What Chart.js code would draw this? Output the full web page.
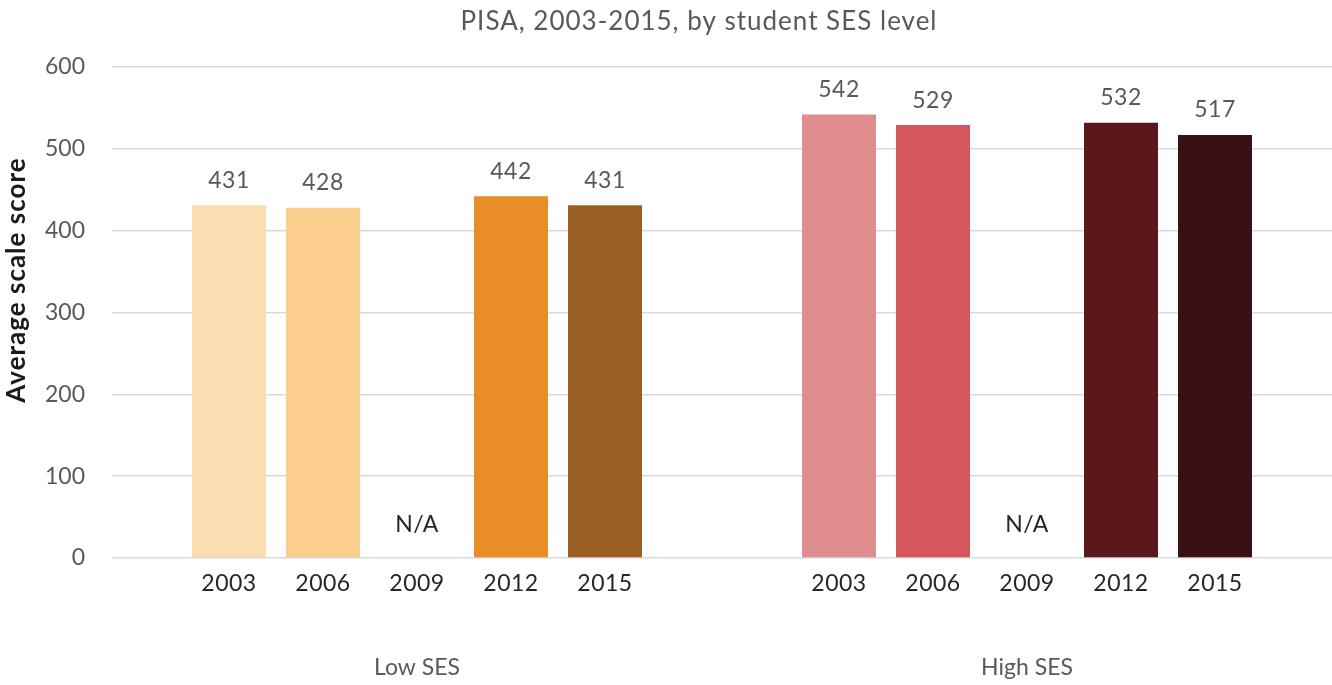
<!DOCTYPE html>
<html>
<head>
<meta charset="utf-8">
<script src="https://cdn.jsdelivr.net/npm/chart.js@4"></script>
<style>
  html, body { margin: 0; padding: 0; background: #ffffff; }
  #wrap { width: 1332px; height: 685px; position: relative; }
</style>
</head>
<body>
<div id="wrap"><canvas id="c"></canvas></div>
<script>
// ---- Data ----
const groups = ["Low SES", "High SES"];
const years = ["2003", "2006", "2009", "2012", "2015"];
const scores2003 = [431, 542];
const scores2006 = [428, 529];
const scores2009 = [null, null];
const scores2012 = [442, 532];
const scores2015 = [431, 517];
const yTicks = [0, 100, 200, 300, 400, 500, 600];
const chartTitle = "PISA, 2003-2015, by student SES level";
const yTitle = "Average scale score";
const missingLabel = "N/A";

// colours per year, per group [Low, High]
const colors2003 = ["#FBDDB1", "#E08D90"];
const colors2006 = ["#FBCF8B", "#D4575D"];
const colors2009 = ["#cccccc", "#cccccc"];
const colors2012 = ["#E88D27", "#5B181A"];
const colors2015 = ["#9A5E25", "#3A1014"];

const seriesValues = [scores2003, scores2006, scores2009, scores2012, scores2015];
const seriesColors = [colors2003, colors2006, colors2009, colors2012, colors2015];

const FONT = "Lato";
const GRAY = "#595959";
const DARK = "#262626";

function setSpacing(ctx, px) { if ("letterSpacing" in ctx) ctx.letterSpacing = px + "px"; }

const labelsPlugin = {
  id: "customLabels",
  afterDatasetsDraw(chart) {
    const ctx = chart.ctx;
    const yScale = chart.scales.y;
    const zeroY = yScale.getPixelForValue(0);
    ctx.save();
    setSpacing(ctx, 0.5);
    chart.data.datasets.forEach((ds, di) => {
      const meta = chart.getDatasetMeta(di);
      meta.data.forEach((bar, i) => {
        const v = ds.data[i];
        const x = bar.x;
        ctx.textAlign = "center";
        ctx.textBaseline = "middle";
        ctx.font = "23px " + FONT;
        if (v === null || v === undefined) {
          ctx.fillStyle = DARK;
          ctx.fillText(missingLabel, x, zeroY - 33);
        } else {
          ctx.fillStyle = GRAY;
          ctx.fillText(String(v), x, yScale.getPixelForValue(v) - 25);
        }
        ctx.fillStyle = DARK;
        ctx.fillText(ds.label, x, zeroY + 26);
      });
    });
    // Title
    setSpacing(ctx, 1);
    ctx.fillStyle = GRAY;
    ctx.font = "26px " + FONT;
    ctx.textAlign = "center";
    ctx.textBaseline = "middle";
    ctx.fillText(chartTitle, 699, 22);
    // Y axis title
    ctx.translate(17, 280);
    ctx.rotate(-Math.PI / 2);
    ctx.fillStyle = "#1a1a1a";
    setSpacing(ctx, 1);
    ctx.font = "bold 26px " + FONT;
    ctx.fillText(yTitle, 0, 0);
    ctx.restore();
  }
};

function build() {
  const datasets = years.map((yr, i) => ({
    label: yr,
    data: seriesValues[i],
    backgroundColor: seriesColors[i],
    borderWidth: 0,
    categoryPercentage: 0.7705,
    barPercentage: 0.787
  }));
  new Chart(document.getElementById("c"), {
    type: "bar",
    data: { labels: groups, datasets },
    plugins: [labelsPlugin],
    options: {
      responsive: true,
      maintainAspectRatio: false,
      animation: false,
      layout: { padding: { top: 67, left: 0, right: 0, bottom: 0 } },
      plugins: {
        legend: { display: false },
        tooltip: { enabled: false },
        title: { display: false }
      },
      scales: {
        y: {
          min: 0,
          max: 600,
          afterBuildTicks: (s) => { s.ticks = yTicks.map(v => ({ value: v })); },
          ticks: { color: GRAY, font: { family: FONT, size: 23 }, padding: 27 },
          grid: { color: "#D9D9D9", lineWidth: 1.5, drawTicks: false },
          border: { display: false },
          afterFit: (s) => { s.width = 112; }
        },
        x: {
          grid: { display: false, drawTicks: false },
          border: { display: false },
          ticks: { color: GRAY, font: { family: FONT, size: 23 }, padding: 96 },
          afterFit: (s) => { s.height = 127; }
        }
      }
    }
  });
}

const fl = document.fonts ? Promise.all([
  document.fonts.load("23px " + FONT),
  document.fonts.load("bold 26px " + FONT)
]).catch(() => {}) : Promise.resolve();
fl.then(build, build);
</script>
</body>
</html>
